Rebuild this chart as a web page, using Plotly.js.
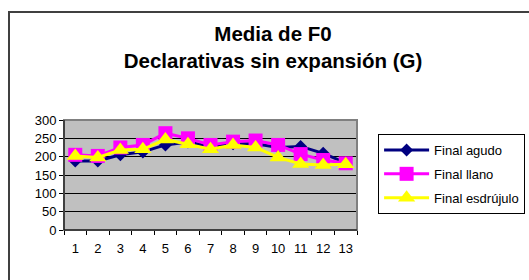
<!DOCTYPE html>
<html>
<head>
<meta charset="utf-8">
<script src="https://cdn.plot.ly/plotly-3.0.1.min.js"></script>
<style>
  html, body { margin: 0; padding: 0; background: #ffffff; overflow: hidden; }
  #wrap { position: relative; width: 529px; height: 280px; overflow: hidden; }
  #frame { position: absolute; left: 8px; top: 11px; width: 600px; height: 400px; border: 2px solid #404040; box-sizing: border-box; pointer-events: none; }
  #chart { position: absolute; left: 0; top: 0; width: 545px; height: 280px; }
</style>
</head>
<body>
<div id="wrap">
  <div id="chart"></div>
  <div id="frame"></div>
</div>
<script>
const categories = ["1","2","3","4","5","6","7","8","9","10","11","12","13"];
const finalAgudo = [188, 188, 205, 213, 232, 240, 228, 235, 235, 225, 228, 209, 183];
const finalLlano = [205, 202, 225, 232, 264, 250, 232, 241, 244, 232, 207, 191, 182];
const finalEsdrujulo = [202, 198, 218, 220, 247, 234, 220, 232, 225, 198, 180, 177, 179];
const seriesNames = ["Final agudo", "Final llano", "Final esdrújulo"];

const font = "Liberation Sans, Arial, sans-serif";

const traces = [
  {
    x: categories, y: finalAgudo, name: seriesNames[0], type: "scatter", mode: "lines+markers",
    line: { color: "#000080", width: 3 },
    marker: { symbol: "diamond", size: 10, color: "#000080" },
    legendgroup: "a"
  },
  {
    x: categories, y: finalLlano, name: seriesNames[1], type: "scatter", mode: "lines+markers",
    line: { color: "#FF00FF", width: 3 },
    marker: { symbol: "square", size: 14, color: "#FF00FF" },
    legendgroup: "b"
  },
  {
    x: categories, y: finalEsdrujulo, name: seriesNames[2], type: "scatter", mode: "lines+markers",
    line: { color: "#FFFF00", width: 3 },
    marker: { symbol: "triangle-up", size: 15, color: "#FFFF00" },
    legendgroup: "c"
  }
];

const layout = {
  width: 545, height: 280,
  margin: { l: 64, r: 188, t: 120, b: 50, pad: 0 },
  paper_bgcolor: "#ffffff",
  plot_bgcolor: "#C0C0C0",
  font: { family: font, size: 13, color: "#000000" },
  showlegend: true,
  title: {
    text: "Media de F0<br>Declarativas sin expansión (G)",
    font: { family: font, size: 20.5, color: "#000000", weight: "bold" },
    x: 273 / 545, xanchor: "center", xref: "container",
    y: 1 - 41 / 280, yanchor: "top", yref: "container"
  },
  xaxis: {
    type: "category",
    range: [-0.5, 12.5],
    showgrid: false,
    zeroline: false,
    showline: true, linecolor: "#000000", linewidth: 1,
    ticks: "outside", tickson: "boundaries", ticklen: 4, tickcolor: "#000000",
    tickangle: 0,
    ticklabelstandoff: 6,
    tickfont: { family: font, size: 13, color: "#000000" },
    fixedrange: true
  },
  yaxis: {
    range: [0, 300],
    dtick: 50,
    showgrid: true, gridcolor: "#000000", gridwidth: 1,
    zeroline: false,
    showline: true, linecolor: "#000000", linewidth: 1,
    ticks: "outside", ticklen: 4, tickcolor: "#000000",
    tickfont: { family: font, size: 13, color: "#000000" },
    fixedrange: true
  },
  legend: {
    x: 1.072, xanchor: "left",
    y: 0.873, yanchor: "top",
    bgcolor: "#ffffff",
    bordercolor: "#000000", borderwidth: 1,
    font: { family: font, size: 13, color: "#000000" },
    traceorder: "grouped",
    tracegroupgap: 4,
    itemwidth: 45
  },
  shapes: [
    {
      type: "rect", xref: "paper", yref: "paper", x0: 0, x1: 1, y0: 0, y1: 1,
      line: { color: "#808080", width: 2 }, layer: "above"
    },
    {
      type: "line", xref: "paper", yref: "paper", x0: 0, x1: 0, y0: 0, y1: 1,
      line: { color: "#000000", width: 1 }, layer: "above"
    },
    {
      type: "line", xref: "paper", yref: "paper", x0: 0, x1: 1, y0: 0, y1: 0,
      line: { color: "#000000", width: 1 }, layer: "above"
    }
  ]
};

Plotly.newPlot("chart", traces, layout, { displayModeBar: false, staticPlot: true });
</script>
</body>
</html>
